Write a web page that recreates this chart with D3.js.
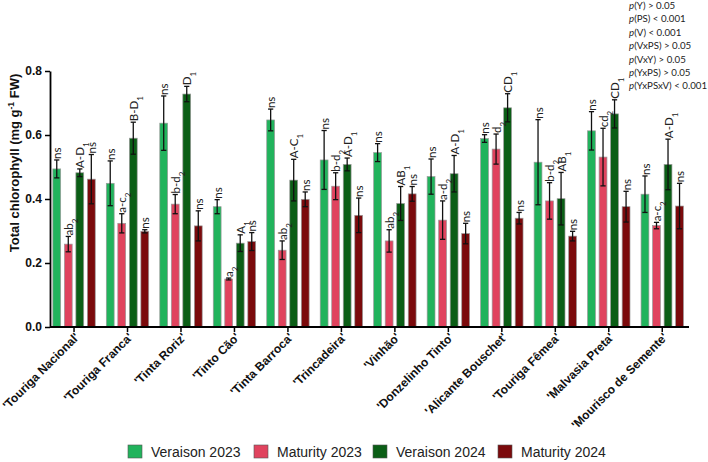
<!DOCTYPE html>
<html>
<head>
<meta charset="utf-8">
<script src="https://cdn.jsdelivr.net/npm/d3@7"></script>
<style>
    body { margin: 0; background: #fff; }
    #chart-area { width: 708px; height: 462px; }
</style>
</head>
<body>
<div id="chart-area"></div>
<script>

// cultivars on the x axis
let categories = ["'Touriga Nacional'", "'Touriga Franca'", "'Tinta Roriz'", "'Tinto Cão'", "'Tinta Barroca'",
    "'Trincadeira'", "'Vinhão'", "'Donzelinho Tinto'", "'Alicante Bouschet'", "'Touriga Fêmea'",
    "'Malvasia Preta'", "'Mourisco de Semente'"];

let seriesNames = ["Veraison 2023", "Maturity 2023", "Veraison 2024", "Maturity 2024"];
let seriesColors = ["#21b35c", "#e0435e", "#0b5e16", "#7b0a0c"];

// means (mg g-1 FW)
let veraison2023 = [0.494, 0.449, 0.637, 0.376, 0.647, 0.522, 0.545, 0.470, 0.589, 0.515, 0.613, 0.415];
let maturity2023 = [0.259, 0.324, 0.384, 0.150, 0.240, 0.440, 0.269, 0.334, 0.556, 0.394, 0.531, 0.317];
let veraison2024 = [0.482, 0.590, 0.728, 0.262, 0.459, 0.508, 0.386, 0.479, 0.685, 0.401, 0.666, 0.508];
let maturity2024 = [0.462, 0.299, 0.316, 0.267, 0.399, 0.349, 0.416, 0.292, 0.340, 0.284, 0.376, 0.378];

// error bars
let veraison2023Err = [0.028, 0.070, 0.085, 0.022, 0.034, 0.092, 0.028, 0.055, 0.012, 0.133, 0.060, 0.057];
let maturity2023Err = [0.024, 0.030, 0.030, 0.003, 0.029, 0.042, 0.035, 0.060, 0.047, 0.057, 0.090, 0.010];
let veraison2024Err = [0.012, 0.050, 0.024, 0.026, 0.065, 0.020, 0.053, 0.057, 0.044, 0.082, 0.044, 0.079];
let maturity2024Err = [0.077, 0.005, 0.047, 0.028, 0.023, 0.054, 0.023, 0.032, 0.018, 0.015, 0.048, 0.071];

// significance letters ("_" marks the subscript)
let veraison2023Letters = ["ns", "ns", "ns", "ns", "ns", "ns", "ns", "ns", "ns", "ns", "ns", "ns"];
let maturity2023Letters = ["ab_2", "a-c_2", "b-d_2", "a_2", "ab_2", "b-d_2", "ab_2", "a-d_2", "d_2", "b-d_2", "cd_2", "a-c_2"];
let veraison2024Letters = ["A-D_1", "B-D_1", "D_1", "A_1", "A-C_1", "A-D_1", "AB_1", "A-D_1", "CD_1", "AB_1", "CD_1", "A-D_1"];
let maturity2024Letters = ["ns", "ns", "ns", "ns", "ns", "ns", "ns", "ns", "ns", "ns", "ns", "ns"];

let yTicks = [0.0, 0.2, 0.4, 0.6, 0.8];

let statsLines = ["(Y) > 0.05", "(PS) < 0.001", "(V) < 0.001", "(VxPS) > 0.05",
    "(VxY) > 0.05", "(YxPS) > 0.05", "(YxPSxV) < 0.001"];


class ChlorophyllChart {

    constructor(_parentElement) {
        this.parentElement = _parentElement;
        this.initVis();
    }

    initVis() {
        let vis = this;

        vis.svg = d3.select("#" + vis.parentElement).append("svg")
            .attr("width", 708)
            .attr("height", 462);

        vis.x0 = d3.scaleBand()
            .domain(categories)
            .range([47.3, 689]);

        // bars inside one group
        let half = 21.2;
        vis.x1 = d3.scaleBand()
            .domain(seriesNames)
            .range([vis.x0.bandwidth() / 2 - half, vis.x0.bandwidth() / 2 + half])
            .paddingInner(0.32);

        vis.y = d3.scaleLinear()
            .domain([0, 0.8])
            .range([327, 71]);

        vis.wrangleData();
    }

    wrangleData() {
        let vis = this;
        let means = [veraison2023, maturity2023, veraison2024, maturity2024];
        let errs = [veraison2023Err, maturity2023Err, veraison2024Err, maturity2024Err];
        let letters = [veraison2023Letters, maturity2023Letters, veraison2024Letters, maturity2024Letters];

        vis.displayData = [];
        categories.forEach((c, i) => {
            seriesNames.forEach((s, j) => {
                vis.displayData.push({
                    cat: c, series: s, color: seriesColors[j],
                    value: means[j][i], err: errs[j][i], label: letters[j][i]
                });
            });
        });

        vis.updateVis();
    }

    updateVis() {
        let vis = this;
        let bx = d => vis.x0(d.cat) + vis.x1(d.series);
        let cx = d => bx(d) + vis.x1.bandwidth() / 2;

        // bars
        vis.svg.selectAll(".bar")
            .data(vis.displayData)
            .enter()
            .append("rect")
            .attr("class", "bar")
            .attr("x", bx)
            .attr("y", d => vis.y(d.value))
            .attr("width", vis.x1.bandwidth())
            .attr("height", d => vis.y(0) - vis.y(d.value))
            .attr("fill", d => d.color)
            .attr("stroke", "#9a9a9a")
            .attr("stroke-width", 0.7);

        // error bars
        let eb = vis.svg.append("g").attr("class", "errors")
            .selectAll("g")
            .data(vis.displayData)
            .enter()
            .append("g");

        eb.append("line")
            .attr("x1", cx).attr("x2", cx)
            .attr("y1", d => vis.y(d.value - d.err))
            .attr("y2", d => vis.y(d.value + d.err))
            .attr("stroke", "#111").attr("stroke-width", 1.3);

        [-1, 1].forEach(k => {
            eb.append("line")
                .attr("x1", d => cx(d) - 2.6).attr("x2", d => cx(d) + 2.6)
                .attr("y1", d => vis.y(d.value + k * d.err))
                .attr("y2", d => vis.y(d.value + k * d.err))
                .attr("stroke", "#111").attr("stroke-width", 1.3);
        });

        // letters above the error bars
        let lbl = vis.svg.append("g").attr("class", "letters")
            .selectAll("text")
            .data(vis.displayData)
            .enter()
            .append("text")
            .attr("transform", d => "translate(" + (cx(d) + 0.5) + "," + (vis.y(d.value + d.err) - 1) + ") rotate(-90)")
            .attr("dy", "0.35em")
            .attr("text-anchor", "start")
            .style("font-family", "Lato, 'Open Sans', sans-serif")
            .style("font-size", "11.5px")
            .attr("fill", "#222");

        lbl.each(function(d) {
            let parts = d.label.split("_");
            let t = d3.select(this);
            t.append("tspan").text(parts[0]);
            if (parts.length > 1) {
                t.append("tspan")
                    .attr("baseline-shift", "sub")
                    .style("font-size", "8px")
                    .text(parts[1]);
            }
        });

        // y axis
        let yAxis = vis.svg.append("g")
            .attr("class", "axis axis--y")
            .attr("transform", "translate(50,0)")
            .call(d3.axisLeft(vis.y).tickValues(yTicks).tickFormat(d3.format(".1f")).tickSize(5).tickSizeOuter(0));
        yAxis.select(".domain").attr("stroke-width", 1.8);
        yAxis.selectAll(".tick line").attr("stroke-width", 1.5);
        yAxis.selectAll("text")
            .style("font-family", "Arial, 'Liberation Sans', sans-serif")
            .style("font-weight", "bold")
            .style("font-size", "12px")
            .attr("fill", "#111");

        // x axis
        let xAxis = vis.svg.append("g")
            .attr("class", "axis axis--x")
            .attr("transform", "translate(0," + vis.y(0) + ")")
            .call(d3.axisBottom(vis.x0).tickSize(5).tickSizeOuter(0));
        xAxis.select(".domain").attr("d", "M50,0H689").attr("stroke-width", 1.8);
        xAxis.selectAll(".tick line").attr("stroke-width", 1.5);
        xAxis.selectAll("text")
            .attr("transform", "translate(3,8) rotate(-45)")
            .attr("x", 0).attr("y", 0).attr("dy", "0.35em")
            .style("text-anchor", "end")
            .style("font-family", "Arial, 'Liberation Sans', sans-serif")
            .style("font-weight", "bold")
            .style("font-size", "12px")
            .attr("fill", "#111");

        // y axis title
        let yt = vis.svg.append("text")
            .attr("transform", "translate(19,163) rotate(-90)")
            .style("text-anchor", "middle")
            .style("font-family", "Arial, 'Liberation Sans', sans-serif")
            .style("font-weight", "bold")
            .style("font-size", "13px")
            .attr("fill", "#111");
        yt.append("tspan").text("Total chlorophyll (mg g");
        yt.append("tspan").attr("baseline-shift", "super").style("font-size", "8.5px").text("-1");
        yt.append("tspan").text(" FW)");

        // stats text top right
        vis.svg.append("g")
            .selectAll("text")
            .data(statsLines)
            .enter()
            .append("text")
            .attr("x", 629)
            .attr("y", (d, i) => 9 + i * 13.4)
            .style("font-family", "Lato, 'Open Sans', sans-serif")
            .style("font-size", "9.7px")
            .attr("fill", "#222")
            .each(function(d) {
                d3.select(this).append("tspan").style("font-style", "italic").text("p");
                d3.select(this).append("tspan").text(d);
            });

        // legend
        let legendX = [128, 254, 373, 498];
        let legend = vis.svg.append("g").attr("class", "legend");
        let items = legend.selectAll("g")
            .data(seriesNames)
            .enter()
            .append("g")
            .attr("transform", (d, i) => "translate(" + legendX[i] + ",445)");
        items.append("rect")
            .attr("width", 14).attr("height", 13)
            .attr("fill", (d, i) => seriesColors[i])
            .attr("stroke", "#555").attr("stroke-width", 0.6);
        items.append("text")
            .attr("x", 23).attr("y", 7).attr("dy", "0.35em")
            .style("font-family", "Arial, 'Liberation Sans', sans-serif")
            .style("font-size", "14px")
            .attr("fill", "#222")
            .text(d => d);
    }
}

new ChlorophyllChart("chart-area");

</script>
</body>
</html>
